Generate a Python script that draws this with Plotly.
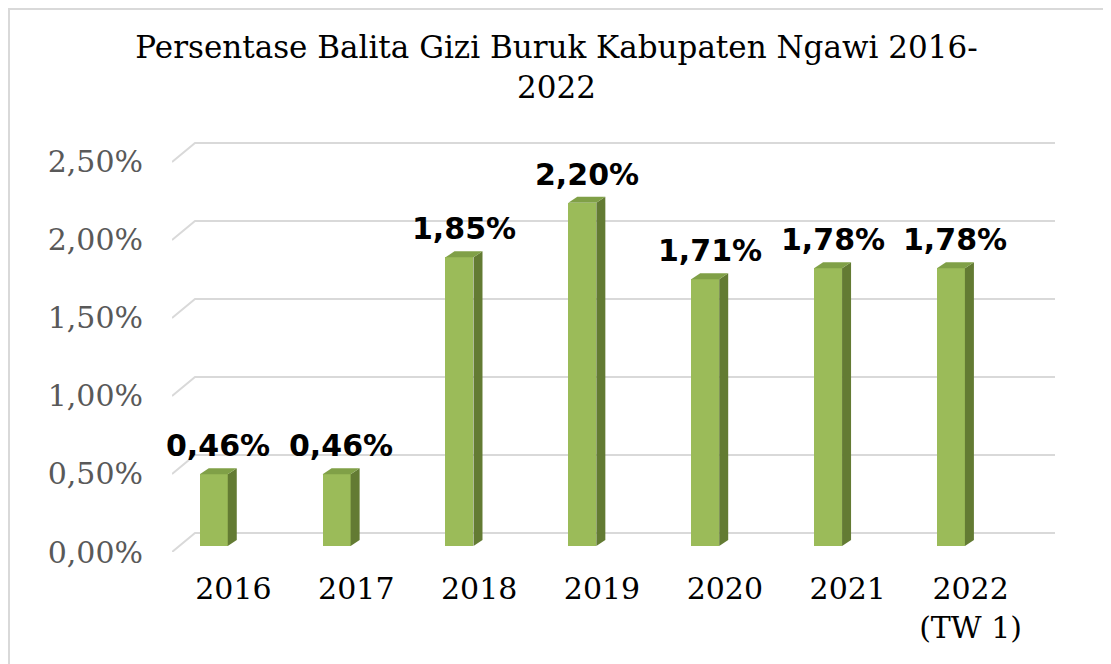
import plotly.graph_objects as go

# ---- data ----
categories = ["2016", "2017", "2018", "2019", "2020", "2021", "2022<br>(TW 1)"]
values = [0.46, 0.46, 1.85, 2.20, 1.71, 1.78, 1.78]   # percent
y_ticks = [0.0, 0.5, 1.0, 1.5, 2.0, 2.5]
y_tick_labels = ["0,00%", "0,50%", "1,00%", "1,50%", "2,00%", "2,50%"]
title_text = "Persentase Balita Gizi Buruk Kabupaten Ngawi 2016-<br>2022"

# ---- layout geometry (pixels, page coords minus the 8px page margin) ----
OFF = 8
W, H = 1111, 664
px_unit = 156.0           # pixels per 1 %
L, R, B = 172 - OFF, 1055 - OFF, 552 - OFF
y_hi = 2.66
T = B - y_hi * px_unit
n = len(categories)
px_cat = 860 / n          # pixels per category along the front edge

x_lo = -0.5
x_hi = x_lo + (R - L) / px_cat

# 3D depth offsets (data units)
floor_dx = 23 / px_cat
floor_dy = 19 / px_unit
bar_base = 6 / px_unit
bar_dx = 9 / px_cat
bar_dy = 6 / px_unit
bar_w = 28 / px_cat
bar_shift = -0.16

FRONT = "#9BBB59"
SIDE = "#637B33"
TOP = "#80A047"
GRID = "#D9D9D9"

fig = go.Figure()

# back wall gridlines with slanted floor-edge segment (below the bars)
for t in y_ticks:
    fig.add_shape(type="path", xref="x", yref="y", layer="below",
                  path=f"M {x_lo},{t} L {x_lo + floor_dx},{t + floor_dy} L {x_hi},{t + floor_dy}",
                  line=dict(color=GRID, width=2))

xs = [i + bar_shift for i in range(n)]

# front faces
fig.add_trace(go.Bar(
    x=xs, y=values, base=bar_base, width=bar_w,
    marker=dict(color=FRONT, line=dict(width=0)),
    showlegend=False, hoverinfo="skip"))

# side and top faces
for xc, v in zip(xs, values):
    x0 = xc - bar_w / 2
    x1 = xc + bar_w / 2
    yb = bar_base
    yt = bar_base + v
    fig.add_trace(go.Scatter(
        x=[x1, x1 + bar_dx, x1 + bar_dx, x1, x1],
        y=[yb, yb + bar_dy, yt + bar_dy, yt, yb],
        fill="toself", fillcolor=SIDE, mode="lines",
        line=dict(width=0, color=SIDE), hoverinfo="skip", showlegend=False))
    fig.add_trace(go.Scatter(
        x=[x0, x0 + bar_dx, x1 + bar_dx, x1, x0],
        y=[yt, yt + bar_dy, yt + bar_dy, yt, yt],
        fill="toself", fillcolor=TOP, mode="lines",
        line=dict(width=0, color=TOP), hoverinfo="skip", showlegend=False))
    fig.add_annotation(
        x=xc + bar_dx / 2, y=yt + bar_dy, xref="x", yref="y",
        text="<b>" + f"{v:.2f}".replace(".", ",") + "%</b>",
        showarrow=False, yanchor="bottom", xanchor="center", yshift=3,
        font=dict(family="DejaVu Sans", size=30, color="#000000"))

# chart border
fig.add_shape(type="rect", xref="paper", yref="paper",
              x0=(1 - L) / (R - L), x1=(1099 - L) / (R - L),
              y0=(B - 700) / (B - T), y1=(B - 1) / (B - T),
              line=dict(color=GRID, width=2), fillcolor="rgba(0,0,0,0)", layer="below")

fig.update_layout(
    width=W, height=H,
    margin=dict(l=L, r=W - R, t=T, b=H - B, pad=0),
    paper_bgcolor="white", plot_bgcolor="white",
    title=dict(text=title_text, x=548.5 / W, xanchor="center",
               y=1 - 49.5 / H, yanchor="middle", yref="container",
               font=dict(family="DejaVu Serif", size=31, color="#000000")),
    xaxis=dict(range=[x_lo, x_hi], tickmode="array",
               tickvals=list(range(n)), ticktext=categories,
               showgrid=False, zeroline=False, showline=False, ticks="",
               ticklabelstandoff=16,
               tickfont=dict(family="DejaVu Serif", size=30, color="#000000")),
    yaxis=dict(range=[0, y_hi], tickmode="array",
               tickvals=y_ticks, ticktext=y_tick_labels,
               showgrid=False, zeroline=False, showline=False, ticks="",
               ticklabelstandoff=28,
               tickfont=dict(family="DejaVu Serif", size=30, color="#595959")),
    bargap=0, showlegend=False,
)

fig.write_html("out.html")
